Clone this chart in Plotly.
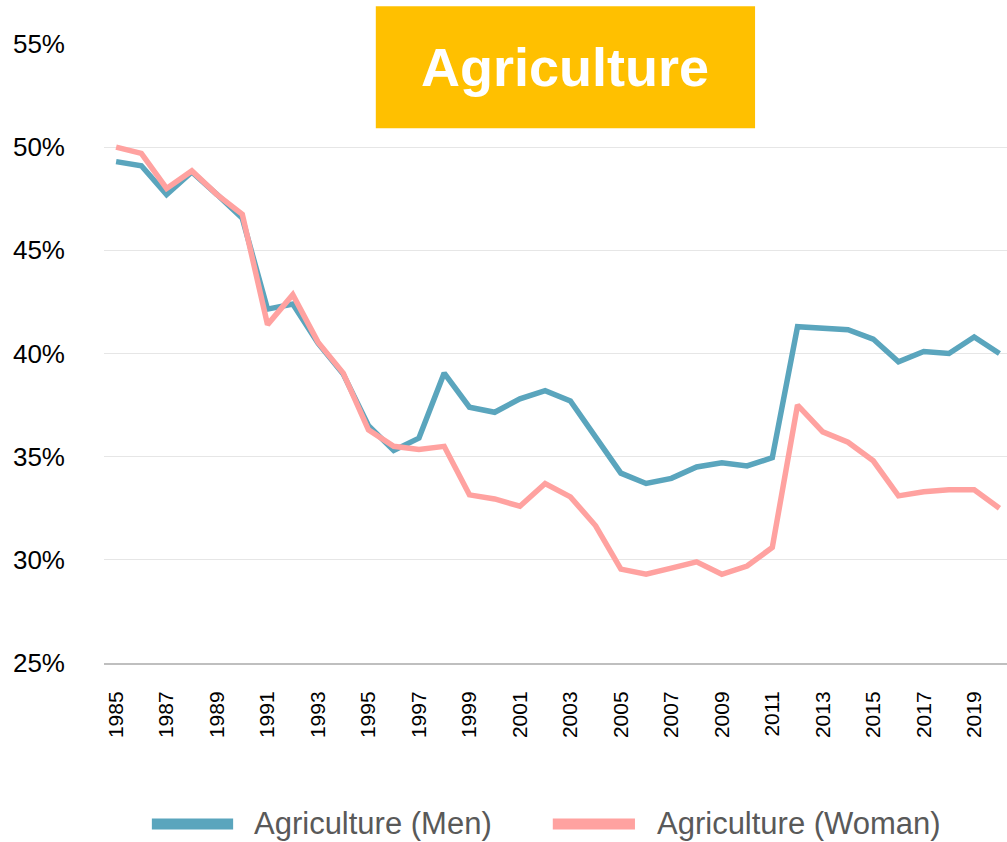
import plotly.graph_objects as go

# Share of employment in agriculture, by sex (%)
years = list(range(1985, 2021))
men = [49.3, 49.1, 47.7, 48.8, 47.7, 46.55, 42.15, 42.4, 40.5, 39.0,
       36.5, 35.3, 35.9, 39.05, 37.4, 37.15, 37.8, 38.2, 37.7, 35.95,
       34.2, 33.7, 33.95, 34.5, 34.7, 34.55, 34.95, 41.3, 41.2, 41.15,
       40.7, 39.6, 40.1, 40.0, 40.8, 40.0]
women = [50.0, 49.7, 48.0, 48.85, 47.7, 46.75, 41.4, 42.85, 40.55, 39.05,
         36.3, 35.5, 35.35, 35.5, 33.15, 32.95, 32.6, 33.7, 33.05, 31.65,
         29.55, 29.3, 29.6, 29.9, 29.3, 29.7, 30.6, 37.5, 36.2, 35.7,
         34.8, 33.1, 33.3, 33.4, 33.4, 32.5]
series_names = ["Agriculture (Men)", "Agriculture (Woman)"]
y_ticks = [25, 30, 35, 40, 45, 50, 55]
x_ticks = list(range(1985, 2021, 2))

MEN_COLOR = "#5AA5BD"
WOMEN_COLOR = "#FFA2A0"
FONT = "Liberation Sans, Arial, sans-serif"

fig = go.Figure()
fig.add_trace(go.Scatter(x=years, y=men, mode="lines", name=series_names[0],
                         line=dict(color=MEN_COLOR, width=5.5), showlegend=False))
fig.add_trace(go.Scatter(x=years, y=women, mode="lines", name=series_names[1],
                         line=dict(color=WOMEN_COLOR, width=5.5), showlegend=False))

fig.update_layout(
    width=1007, height=842,
    margin=dict(l=104, r=0, t=44, b=179),
    plot_bgcolor="white", paper_bgcolor="white",
    showlegend=False,
    xaxis=dict(
        range=[1984.52, 2020.3],
        tickmode="array", tickvals=x_ticks, ticktext=[str(v) for v in x_ticks],
        tickangle=-90, showgrid=False, zeroline=False,
        showline=True, linecolor="#BFBFBF", linewidth=2,
        ticks="", ticklabelstandoff=18,
        tickfont=dict(family=FONT, size=21, color="#000000"),
    ),
    yaxis=dict(
        range=[25, 55],
        tickmode="array", tickvals=y_ticks, ticktext=[f"{v}%" for v in y_ticks],
        showgrid=True, gridcolor="#E6E6E6", gridwidth=1, zeroline=False,
        showline=False, ticks="", ticklabelstandoff=38,
        tickfont=dict(family=FONT, size=26, color="#000000"),
    ),
)

# Title banner
fig.add_shape(type="rect", xref="paper", yref="paper",
              x0=0.301, x1=0.721, y0=0.864, y1=1.061,
              fillcolor="#FFC000", line=dict(width=0), layer="above")
fig.add_annotation(xref="paper", yref="paper", x=0.511, y=0.963,
                   text="<b>Agriculture</b>", showarrow=False,
                   xanchor="center", yanchor="middle",
                   font=dict(family=FONT, size=54, color="white"))

# Legend drawn below the axis
legend_items = [
    (series_names[0], MEN_COLOR, 0.053, 0.143, 0.164),
    (series_names[1], WOMEN_COLOR, 0.497, 0.588, 0.610),
]
for label, color, x0, x1, xt in legend_items:
    fig.add_shape(type="line", xref="paper", yref="paper",
                  x0=x0, x1=x1, y0=-0.260, y1=-0.260,
                  line=dict(color=color, width=11))
    fig.add_annotation(xref="paper", yref="paper", x=xt, y=-0.260,
                       text=label, showarrow=False,
                       xanchor="left", yanchor="middle",
                       font=dict(family=FONT, size=31, color="#595959"))

fig.write_html("out.html")
